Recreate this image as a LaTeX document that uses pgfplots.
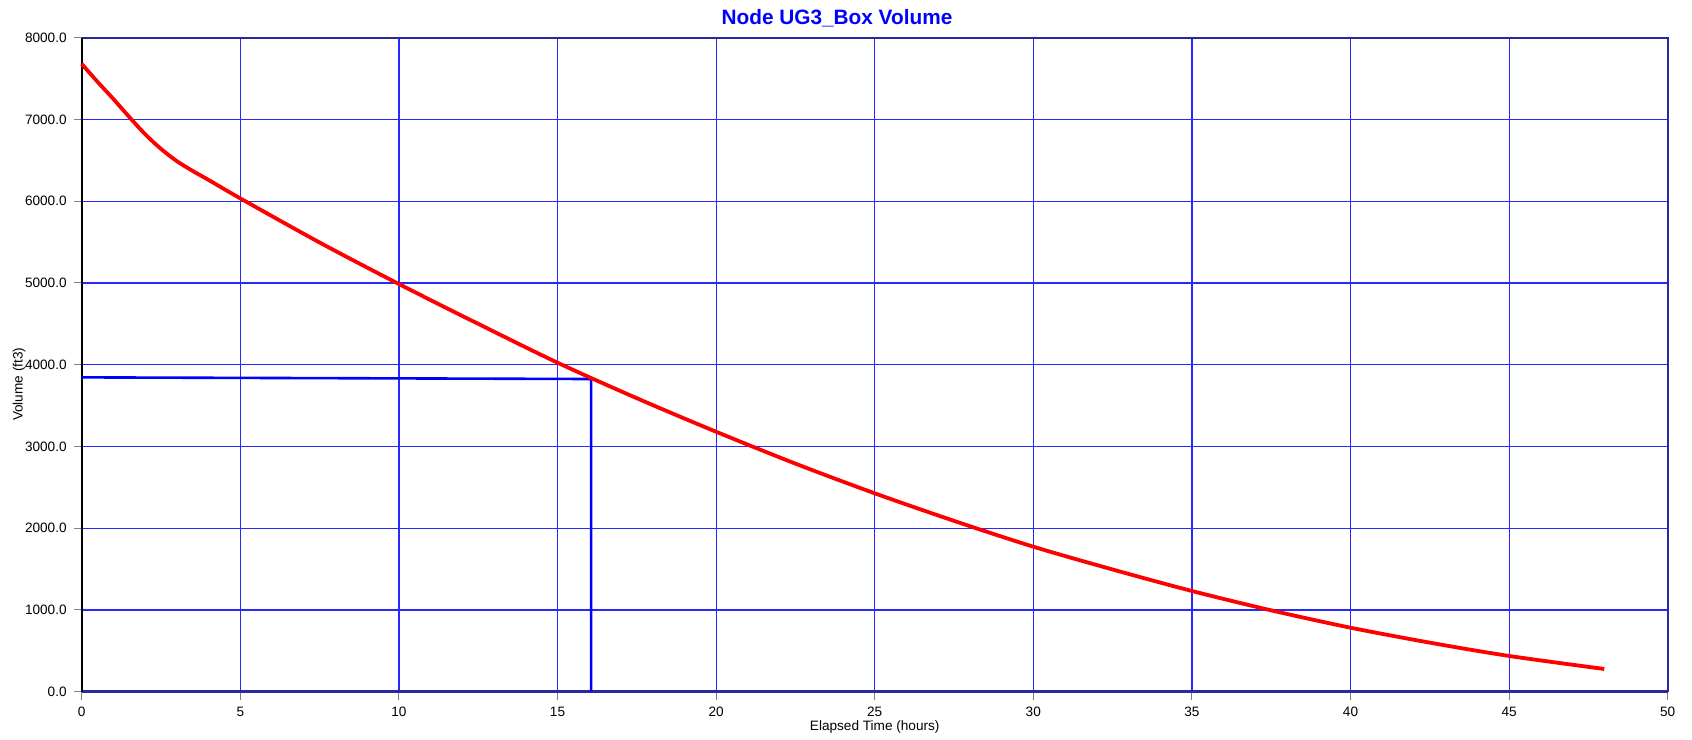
\documentclass[border=0pt]{standalone}
\usepackage{fontspec}
\setmainfont{Liberation Sans}
\usepackage{pgfplots}
\pgfplotsset{compat=1.18}
\definecolor{navy}{RGB}{40,40,160}
\definecolor{gridblue}{RGB}{40,40,255}
\begin{document}
\begin{tikzpicture}
\begin{axis}[
  scale only axis,
  width=793pt, height=327pt,
  xmin=0, xmax=50, ymin=0, ymax=8000,
  xtick={0,5,...,50}, ytick={0,1000,...,8000},
  xtick pos=bottom, ytick pos=left,
  tick align=outside, major tick length=4pt,
  tick style={gray, line width=0.5pt},
  grid=major,
  major grid style={gridblue, line width=0.6pt},
  axis line style={draw=none},
  /pgf/number format/assume math mode=true,
  ticklabel style={font=\fontsize{6.8}{8}\selectfont},
  yticklabel={\pgfmathprintnumber[fixed,fixed zerofill,precision=1,1000 sep={}]{\tick}},
  xticklabel={\pgfmathprintnumber[fixed,precision=0]{\tick}},
  xlabel={Elapsed Time (hours)},
  ylabel={Volume (ft3)},
  label style={font=\fontsize{6.8}{8}\selectfont},
  xlabel style={at={(axis description cs:0.5,0)}, anchor=center, yshift=-17.5pt},
  ylabel style={at={(axis description cs:-0.0395,0.47)}, anchor=center},
  clip=false,
]
\draw[navy, line width=0.9pt] (rel axis cs:0,1) -- (rel axis cs:1,1) -- (rel axis cs:1,0);
\draw[navy, line width=1.2pt] (rel axis cs:0,0) -- (rel axis cs:1,0);
\draw[black, line width=1.1pt] (rel axis cs:0,0) -- (rel axis cs:0,1);
\addplot[blue, line width=1.3pt, line join=miter] coordinates {
(0,3845) (16.06,3825) (16.06,0)};
\addplot[red, line width=1.9pt, smooth, tension=0.5] coordinates {
(0,7680) (0.5,7460) (1,7250) (1.5,7030) (2,6820) (2.5,6640) (3,6490)
(3.5,6370) (4,6260) (5,6035) (7.5,5495) (10,4987) (12.5,4500) (15,4025)
(17.5,3590) (20,3180) (22.5,2790) (25,2427) (27.5,2090)
(30,1774) (32.5,1495) (35,1232) (37.5,995) (40,783) (42.5,600)
(45,437) (48,278)};
\node[font=\bfseries\fontsize{10.4}{12}\selectfont, text=blue, anchor=center]
  at (axis cs:23.81,8000) [yshift=9.85pt] {Node UG3\_Box Volume};
\end{axis}
\pgfresetboundingbox
\path[use as bounding box] (-40.85pt,-23.65pt) rectangle (805.15pt,345.85pt);
\end{tikzpicture}
\end{document}
